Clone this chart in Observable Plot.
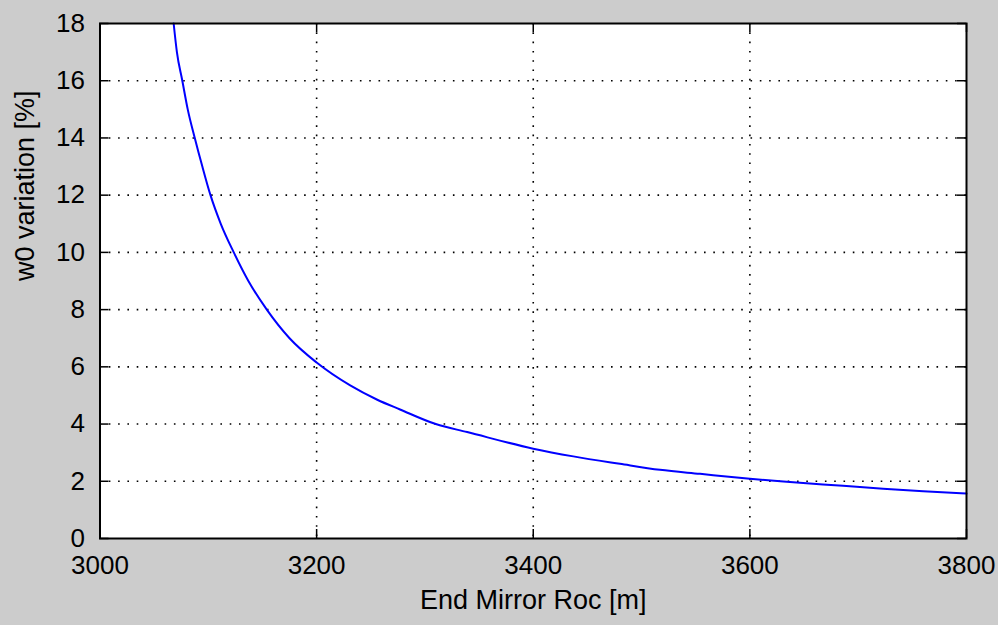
<!DOCTYPE html>
<html>
<head>
<meta charset="utf-8">
<script src="https://cdn.jsdelivr.net/npm/d3@7"></script>
<script src="https://cdn.jsdelivr.net/npm/@observablehq/plot@0.6"></script>
<style>
  html, body { margin: 0; padding: 0; background: #cccccc; }
  #chart { width: 998px; height: 625px; }
</style>
</head>
<body>
<div id="chart"></div>
<script>
// End mirror radius of curvature [m]
const roc = [3068, 3071, 3076, 3081, 3087.5, 3094.5, 3102, 3111.5, 3123.5, 3137, 3154, 3175,
  3200, 3231, 3256, 3277, 3310, 3339, 3400, 3437, 3480, 3517, 3554, 3600, 3631, 3686, 3723, 3760, 3800];
// w0 variation [%]
const w0var = [18.0, 17.0, 16.0, 15.0, 14.0, 13.0, 12.0, 11.0, 10.0, 9.0, 8.0, 7.0,
  6.15, 5.35, 4.85, 4.51, 4.0, 3.72, 3.14, 2.87, 2.61, 2.40, 2.26, 2.09, 1.99, 1.84, 1.74, 1.65, 1.57];

const xTicks = [3000, 3200, 3400, 3600, 3800];
const yTicks = [0, 2, 4, 6, 8, 10, 12, 14, 16, 18];
const xGrid = [3200, 3400, 3600];
const yGrid = [2, 4, 6, 8, 10, 12, 14, 16];
const xLabel = "End Mirror Roc [m]";
const yLabel = "w0 variation [%]";

const data = roc.map((x, i) => ({x, y: w0var[i]}));
const font = "Liberation Sans, Arial, Helvetica, sans-serif";
const gridStyle = {stroke: "black", strokeOpacity: 1, strokeWidth: 1.6, strokeDasharray: "1.6,7.7"};
const W = 998, H = 625, ML = 99.5, MR = 32, MT = 23, MB = 87, TICK = 9;
const innerW = W - ML - MR, innerH = H - MT - MB;

const chart = Plot.plot({
  width: W,
  height: H,
  marginLeft: ML,
  marginRight: MR,
  marginTop: MT,
  marginBottom: MB,
  style: {background: "#cccccc", fontFamily: font, fontSize: "26px", color: "black"},
  x: {domain: [3000, 3800]},
  y: {domain: [0, 18]},
  marks: [
    Plot.frame({fill: "white"}),
    Plot.gridX(xGrid, gridStyle),
    Plot.gridY(yGrid, gridStyle),
    Plot.line(data, {x: "x", y: "y", stroke: "#0000ff", strokeWidth: 2, curve: "monotone-x"}),
    // inward ticks on all four sides
    Plot.tickY(yTicks, {y: d => d, stroke: "black", strokeWidth: 1.5, insetRight: innerW - TICK}),
    Plot.tickY(yTicks, {y: d => d, stroke: "black", strokeWidth: 1.5, insetLeft: innerW - TICK}),
    Plot.tickX(xTicks, {x: d => d, stroke: "black", strokeWidth: 1.5, insetTop: innerH - TICK}),
    Plot.tickX(xTicks, {x: d => d, stroke: "black", strokeWidth: 1.5, insetBottom: innerH - TICK}),
    Plot.axisX(xTicks, {anchor: "bottom", tickSize: 0, tickPadding: 17, tickFormat: d => String(d), fontSize: 26, label: null}),
    Plot.axisY(yTicks, {anchor: "left", tickSize: 0, tickPadding: 15, tickFormat: d => String(d), fontSize: 26, label: null}),
    Plot.frame({stroke: "black", strokeWidth: 2}),
    Plot.text([xLabel], {frameAnchor: "bottom", dy: 70, text: d => d, fontSize: 27, fill: "black"}),
    Plot.text([yLabel], {frameAnchor: "left", dx: -75, rotate: -90, text: d => d, fontSize: 27, fill: "black"})
  ]
});
document.getElementById("chart").appendChild(chart);
</script>
</body>
</html>
